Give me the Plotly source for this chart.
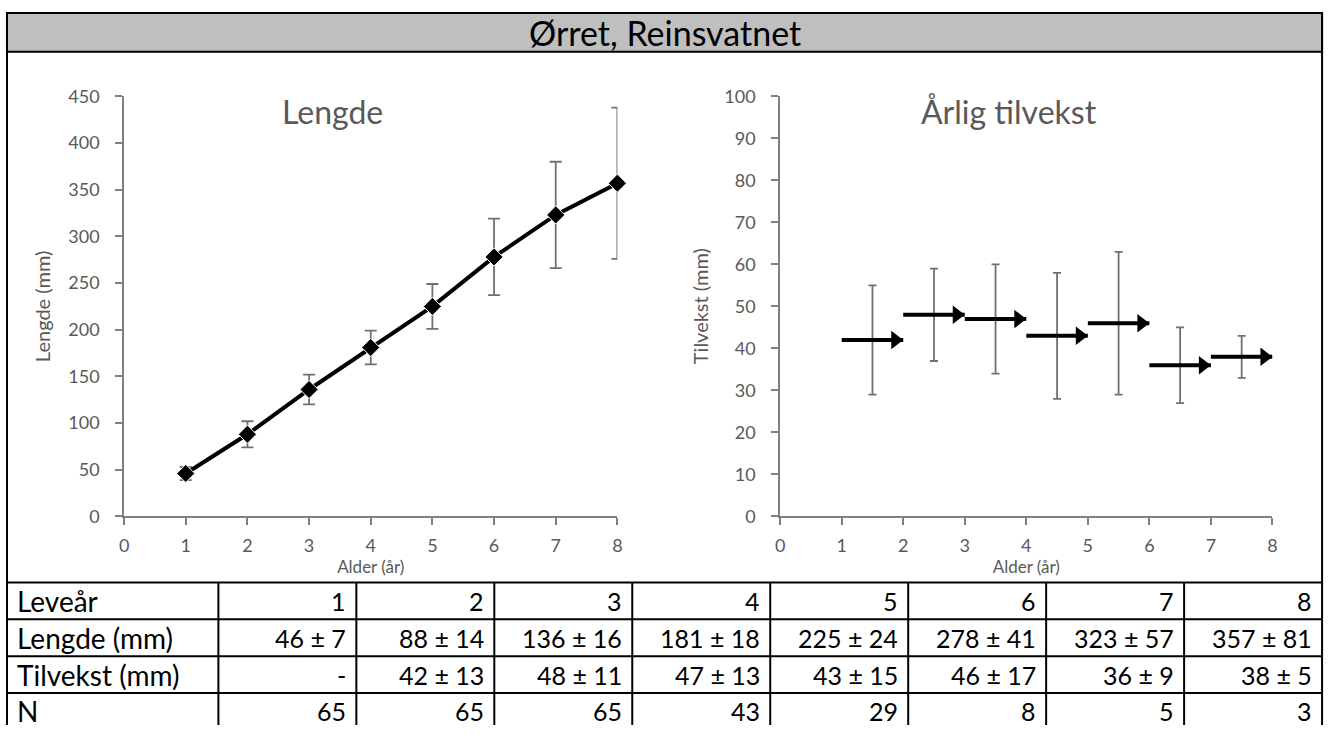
import plotly.graph_objects as go

# ---------------- data ----------------
ages = [1, 2, 3, 4, 5, 6, 7, 8]
lengde_mean = [46, 88, 136, 181, 225, 278, 323, 357]
lengde_sd = [7, 14, 16, 18, 24, 41, 57, 81]
tilvekst_mean = [None, 42, 48, 47, 43, 46, 36, 38]
tilvekst_sd = [None, 13, 11, 13, 15, 17, 9, 5]
n_fish = [65, 65, 65, 43, 29, 8, 5, 3]

title_text = "Ørret, Reinsvatnet"
row_labels = ["Leveår", "Lengde (mm)", "Tilvekst (mm)", "N"]

W, H = 1336, 735
FONT = "Lato"
AX_GREY = "#808080"
ERR_GREY = "#707070"
TICK_GREY = "#595959"


def px(x):
    return x / W


def py(y):
    return 1 - y / H


fig = go.Figure()

# ---------- Lengde ----------
fig.add_trace(go.Scatter(
    x=ages, y=lengde_mean, mode="lines+markers",
    line=dict(color="black", width=4),
    marker=dict(symbol="diamond", size=14, color="black",
                line=dict(color="white", width=1)),
    error_y=dict(type="data", array=lengde_sd, visible=True,
                 color=ERR_GREY, thickness=1.8, width=6),
    xaxis="x", yaxis="y", showlegend=False, cliponaxis=False,
))

# ---------- Tilvekst (arrows from age-1 to age) ----------
seg_x, seg_y, tip_x, tip_y, mid_x, mid_y, mid_e = [], [], [], [], [], [], []
for i in range(1, len(ages)):
    m = tilvekst_mean[i]
    if m is None:
        continue
    seg_x += [ages[i - 1], ages[i], None]
    seg_y += [m, m, None]
    tip_x.append(ages[i])
    tip_y.append(m)
    mid_x.append((ages[i - 1] + ages[i]) / 2)
    mid_y.append(m)
    mid_e.append(tilvekst_sd[i])

fig.add_trace(go.Scatter(
    x=mid_x, y=mid_y, mode="markers",
    marker=dict(size=1, color="rgba(0,0,0,0)"),
    error_y=dict(type="data", array=mid_e, visible=True,
                 color=ERR_GREY, thickness=1.8, width=4),
    xaxis="x2", yaxis="y2", showlegend=False, hoverinfo="skip",
))
fig.add_trace(go.Scatter(
    x=seg_x, y=seg_y, mode="lines",
    line=dict(color="black", width=4),
    xaxis="x2", yaxis="y2", showlegend=False, connectgaps=False,
))
fig.add_trace(go.Scatter(
    x=tip_x, y=tip_y, mode="markers",
    marker=dict(symbol="triangle-up", angle=90, standoff=8, size=16,
                color="black", line=dict(width=0)),
    xaxis="x2", yaxis="y2", showlegend=False, cliponaxis=False,
))

axis_common = dict(
    showline=True, linecolor=AX_GREY, linewidth=1.8,
    ticks="outside", tickcolor=AX_GREY, ticklen=7, tickwidth=1.8,
    showgrid=False, zeroline=False,
    tickfont=dict(family=FONT, size=18, color=TICK_GREY),
)
xtitle = dict(text="Alder (år)", font=dict(family=FONT, size=17, color=TICK_GREY), standoff=0)

PLOT_TOP, PLOT_BOT = 87, 520
L0, L1 = 120, 617
R0, R1 = 781, 1277

# ---------- layout pieces: frame, title bar, table ----------
FRAME_L, FRAME_R, FRAME_T = 2, 1327, 1
BAR_B = 41
TABLE_TOP, ROW_H = 588, 38
FIRST_COL = 215
COL_W = (FRAME_R - FIRST_COL) / len(ages)
col_edges = [FRAME_L, FIRST_COL] + [FIRST_COL + COL_W * (k + 1) for k in range(len(ages))]

shapes = [
    dict(type="rect", xref="paper", yref="paper",
         x0=px(FRAME_L), x1=px(FRAME_R), y0=py(BAR_B), y1=py(FRAME_T),
         fillcolor="#bfbfbf", line=dict(color="black", width=2), layer="below"),
    dict(type="line", xref="paper", yref="paper",
         x0=px(FRAME_L), x1=px(FRAME_L), y0=0, y1=py(FRAME_T),
         line=dict(color="black", width=2)),
    dict(type="line", xref="paper", yref="paper",
         x0=px(FRAME_R), x1=px(FRAME_R), y0=0, y1=py(FRAME_T),
         line=dict(color="black", width=2)),
]
n_rows = len(row_labels)
for r in range(n_rows):
    yy = TABLE_TOP + r * ROW_H
    shapes.append(dict(type="line", xref="paper", yref="paper",
                       x0=px(FRAME_L), x1=px(FRAME_R), y0=py(yy), y1=py(yy),
                       line=dict(color="black", width=2)))
for xe in col_edges[1:-1]:
    shapes.append(dict(type="line", xref="paper", yref="paper",
                       x0=px(xe), x1=px(xe), y0=0, y1=py(TABLE_TOP),
                       line=dict(color="black", width=2)))

table_rows = [
    [str(a) for a in ages],
    [f"{m} ± {s}" for m, s in zip(lengde_mean, lengde_sd)],
    ["-" if m is None else f"{m} ± {s}" for m, s in zip(tilvekst_mean, tilvekst_sd)],
    [str(v) for v in n_fish],
]

LFONT = dict(family=FONT, size=28, color="black")
NFONT = dict(family=FONT, size=25, color="black")
annotations = [
    dict(text=title_text, xref="paper", yref="paper", x=px((FRAME_L + FRAME_R) / 2),
         y=py((FRAME_T + BAR_B) / 2), xanchor="center", yanchor="middle", showarrow=False,
         font=dict(family=FONT, size=34, color="black")),
    dict(text="Lengde", xref="paper", yref="paper", x=px(330), y=py(103),
         xanchor="center", yanchor="middle",
         showarrow=False, font=dict(family=FONT, size=32, color=TICK_GREY)),
    dict(text="Årlig tilvekst", xref="paper", yref="paper", x=px(1012), y=py(103),
         xanchor="center", yanchor="middle",
         showarrow=False, font=dict(family=FONT, size=32, color=TICK_GREY)),
    dict(text="Lengde (mm)", xref="paper", yref="paper", x=px(38), y=py((PLOT_TOP + PLOT_BOT) / 2),
         xanchor="center", yanchor="middle",
         textangle=-90, showarrow=False, font=dict(family=FONT, size=20, color=TICK_GREY)),
    dict(text="Tilvekst (mm)", xref="paper", yref="paper", x=px(701), y=py((PLOT_TOP + PLOT_BOT) / 2),
         xanchor="center", yanchor="middle",
         textangle=-90, showarrow=False, font=dict(family=FONT, size=20, color=TICK_GREY)),
]
for r, label in enumerate(row_labels):
    yc = TABLE_TOP + r * ROW_H + ROW_H / 2
    annotations.append(dict(text=label, xref="paper", yref="paper", x=px(FRAME_L + 8), y=py(yc),
                            xanchor="left", yanchor="middle", showarrow=False, font=LFONT))
    for c, val in enumerate(table_rows[r]):
        annotations.append(dict(text=val, xref="paper", yref="paper", x=px(col_edges[c + 2] - 8),
                                y=py(yc), xanchor="right", yanchor="middle",
                                showarrow=False, font=NFONT))

fig.update_layout(
    width=W, height=H,
    margin=dict(l=0, r=0, t=0, b=0),
    paper_bgcolor="white", plot_bgcolor="white",
    font=dict(family=FONT),
    xaxis=dict(domain=[px(L0), px(L1)], range=[0, 8], dtick=1, anchor="y",
               title=xtitle, ticklabelstandoff=5, **axis_common),
    yaxis=dict(domain=[py(PLOT_BOT), py(PLOT_TOP)], range=[0, 450], dtick=50, anchor="x",
               ticklabelstandoff=12, **axis_common),
    xaxis2=dict(domain=[px(R0), px(R1)], range=[0, 8], dtick=1, anchor="y2",
                title=xtitle, ticklabelstandoff=5, **axis_common),
    yaxis2=dict(domain=[py(PLOT_BOT), py(PLOT_TOP)], range=[0, 100], dtick=10, anchor="x2",
                ticklabelstandoff=12, **axis_common),
    shapes=shapes,
    annotations=annotations,
)

fig.write_html(
    "out.html",
    config={"displayModeBar": False},
    post_script="document.body.style.margin='0';document.body.style.padding='0';"
                "document.body.style.overflow='hidden';",
)
